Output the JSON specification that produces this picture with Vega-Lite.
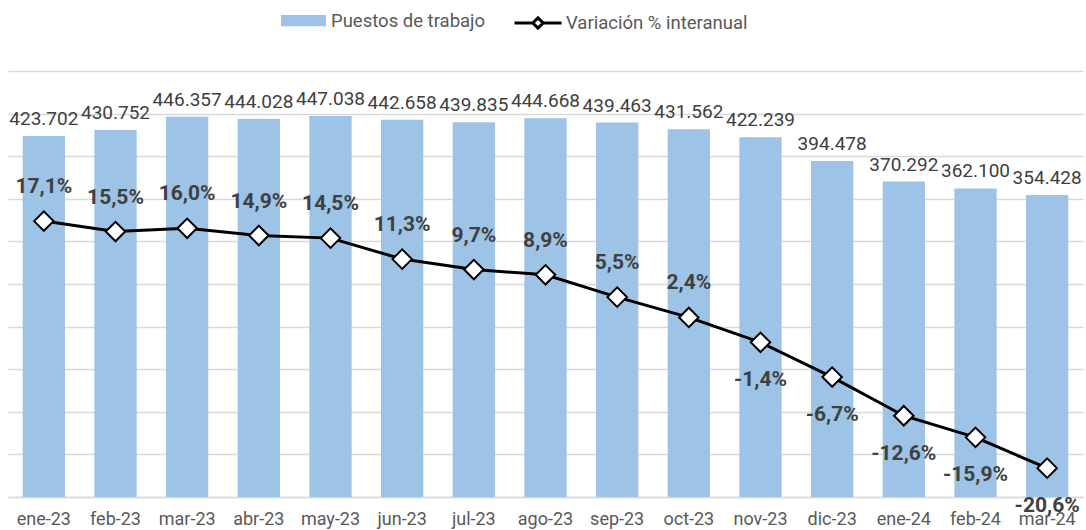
{
  "$schema": "https://vega.github.io/schema/vega-lite/v6.json",
  "autosize": {"type": "none"},
  "padding": {"left": 8, "top": 71, "right": 3, "bottom": 33},
  "width": 1075,
  "height": 426,
  "background": "white",
  "config": {
    "font": "Roboto",
    "view": {"stroke": null}
  },
  "data": {
    "values": [
      {"mes": "ene-23", "puestos": 423702, "puestos_txt": "423.702", "variacion": 17.1, "var_txt": "17,1%"},
      {"mes": "feb-23", "puestos": 430752, "puestos_txt": "430.752", "variacion": 15.5, "var_txt": "15,5%"},
      {"mes": "mar-23", "puestos": 446357, "puestos_txt": "446.357", "variacion": 16.0, "var_txt": "16,0%"},
      {"mes": "abr-23", "puestos": 444028, "puestos_txt": "444.028", "variacion": 14.9, "var_txt": "14,9%"},
      {"mes": "may-23", "puestos": 447038, "puestos_txt": "447.038", "variacion": 14.5, "var_txt": "14,5%"},
      {"mes": "jun-23", "puestos": 442658, "puestos_txt": "442.658", "variacion": 11.3, "var_txt": "11,3%"},
      {"mes": "jul-23", "puestos": 439835, "puestos_txt": "439.835", "variacion": 9.7, "var_txt": "9,7%"},
      {"mes": "ago-23", "puestos": 444668, "puestos_txt": "444.668", "variacion": 8.9, "var_txt": "8,9%"},
      {"mes": "sep-23", "puestos": 439463, "puestos_txt": "439.463", "variacion": 5.5, "var_txt": "5,5%"},
      {"mes": "oct-23", "puestos": 431562, "puestos_txt": "431.562", "variacion": 2.4, "var_txt": "2,4%"},
      {"mes": "nov-23", "puestos": 422239, "puestos_txt": "422.239", "variacion": -1.4, "var_txt": "-1,4%"},
      {"mes": "dic-23", "puestos": 394478, "puestos_txt": "394.478", "variacion": -6.7, "var_txt": "-6,7%"},
      {"mes": "ene-24", "puestos": 370292, "puestos_txt": "370.292", "variacion": -12.6, "var_txt": "-12,6%"},
      {"mes": "feb-24", "puestos": 362100, "puestos_txt": "362.100", "variacion": -15.9, "var_txt": "-15,9%"},
      {"mes": "mar-24", "puestos": 354428, "puestos_txt": "354.428", "variacion": -20.6, "var_txt": "-20,6%"}
    ]
  },
  "encoding": {
    "x": {
      "field": "mes",
      "type": "nominal",
      "sort": null,
      "scale": {"paddingInner": 0.41, "paddingOuter": 0.205},
      "axis": {
        "title": null,
        "labelAngle": 0,
        "labelFontSize": 18,
        "labelColor": "#595959",
        "labelPadding": 13,
        "ticks": false,
        "domain": true,
        "domainColor": "#D9D9D9",
        "domainWidth": 1.5
      }
    }
  },
  "layer": [
    {
      "encoding": {
        "y": {
          "field": "puestos",
          "type": "quantitative",
          "scale": {"domain": [0, 500000], "nice": false, "zero": true},
          "axis": {
            "title": null,
            "labels": false,
            "ticks": false,
            "domain": false,
            "grid": true,
            "gridColor": "#D9D9D9",
            "gridWidth": 1.5,
            "values": [0, 50000, 100000, 150000, 200000, 250000, 300000, 350000, 400000, 450000, 500000]
          }
        }
      },
      "layer": [
        {
          "mark": {"type": "bar"},
          "encoding": {
            "color": {
              "datum": "Puestos de trabajo",
              "scale": {"range": ["#9DC3E6"]},
              "legend": {
                "title": null,
                "orient": "none",
                "legendX": 273,
                "legendY": -73,
                "symbolType": "M-1,-0.25H1V0.25H-1Z",
                "symbolSize": 2025,
                "symbolStrokeWidth": 0,
                "labelFontSize": 18.5,
                "labelColor": "#595959",
                "labelOffset": 5,
                "labelLimit": 400
              }
            }
          }
        },
        {
          "mark": {"type": "text", "baseline": "alphabetic", "dy": -11, "fontSize": 19, "color": "#404040"},
          "encoding": {"text": {"field": "puestos_txt"}}
        }
      ]
    },
    {
      "encoding": {
        "y": {
          "field": "variacion",
          "type": "quantitative",
          "scale": {"domain": [-25, 40], "nice": false, "zero": false},
          "axis": null
        }
      },
      "layer": [
        {
          "mark": {"type": "line", "strokeWidth": 3},
          "encoding": {
            "stroke": {
              "datum": "Variación % interanual",
              "scale": {"range": ["black"]},
              "legend": {
                "title": null,
                "orient": "none",
                "legendX": 505,
                "legendY": -73,
                "symbolType": "M-1,0H-0.22M0.22,0H1M0,-0.22L0.22,0L0,0.22L-0.22,0Z",
                "symbolSize": 2209,
                "symbolStrokeWidth": 3,
                "symbolFillColor": "white",
                "labelFontSize": 18.5,
                "labelColor": "#595959",
                "labelOffset": 3,
                "labelLimit": 400,
                "encode": {"symbols": {"update": {"fill": {"value": "white"}, "stroke": {"value": "black"}, "strokeWidth": {"value": 3}}}}
              }
            }
          }
        },
        {
          "mark": {"type": "point", "shape": "diamond", "size": 380, "filled": true, "fill": "white", "stroke": "black", "strokeWidth": 2, "opacity": 1}
        },
        {
          "transform": [{"filter": "datum.variacion >= 0"}],
          "mark": {"type": "text", "baseline": "alphabetic", "dy": -28, "fontSize": 21, "fontWeight": "bold", "color": "#404040"},
          "encoding": {"text": {"field": "var_txt"}}
        },
        {
          "transform": [{"filter": "datum.variacion < 0"}],
          "mark": {"type": "text", "baseline": "alphabetic", "dy": 44, "fontSize": 21, "fontWeight": "bold", "color": "#404040"},
          "encoding": {"text": {"field": "var_txt"}}
        }
      ]
    }
  ],
  "resolve": {"scale": {"y": "independent", "color": "independent", "stroke": "independent"}}
}
